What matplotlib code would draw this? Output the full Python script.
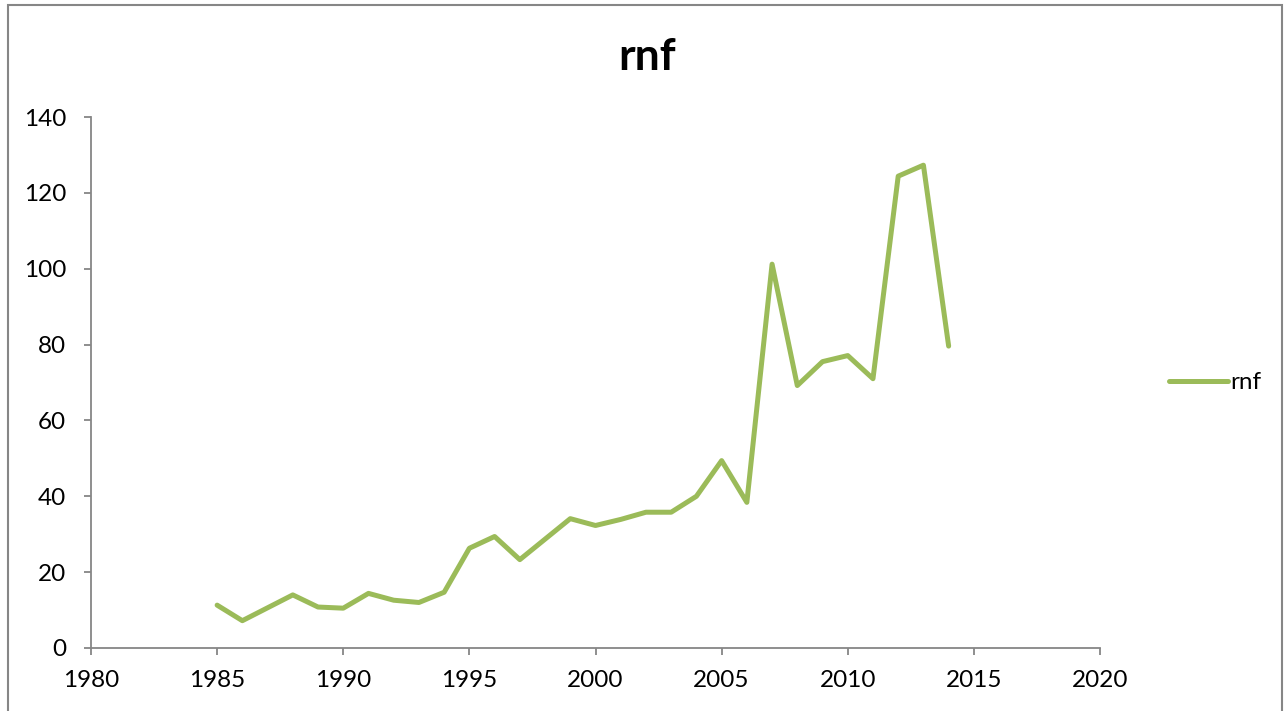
import matplotlib
matplotlib.use('Agg')
import matplotlib.pyplot as plt
from matplotlib.patches import Rectangle

plt.rcParams['font.family'] = ['Lato', 'DejaVu Sans']

years = list(range(1985, 2015))
rnf = [11.3, 7.2, 10.6, 14.0, 10.8, 10.5, 14.4, 12.6, 12.0, 14.7,
       26.3, 29.4, 23.3, 28.7, 34.1, 32.3, 33.9, 35.8, 35.8, 40.0,
       49.4, 38.4, 101.2, 69.2, 75.5, 77.1, 71.0, 124.4, 127.3, 79.6]

line_color = '#9BBB59'
axis_color = '#868686'

fig = plt.figure(figsize=(12.87, 7.11), dpi=100)
ax = fig.add_axes([91 / 1287, 1 - 648 / 711, (1100 - 91) / 1287, (648 - 117) / 711])

ax.plot(years, rnf, color=line_color, linewidth=3.6, label='rnf',
        solid_joinstyle='round', solid_capstyle='round')

ax.set_xlim(1980, 2020)
ax.set_ylim(0, 140)
ax.set_xticks(range(1980, 2021, 5))
ax.set_yticks(range(0, 141, 20))

for side in ['top', 'right']:
    ax.spines[side].set_visible(False)
for side in ['left', 'bottom']:
    ax.spines[side].set_color(axis_color)
    ax.spines[side].set_linewidth(1.3)
ax.tick_params(direction='out', length=5, width=1.3, color=axis_color,
               labelsize=17.5, labelcolor='black')
ax.tick_params(axis='x', pad=11)
ax.tick_params(axis='y', pad=13)

# title is centred on the whole chart, not on the plot area
fig.text(647 / 1287, 1 - 57 / 711, 'rnf', fontsize=32, fontweight='bold',
         ha='center', va='center')

leg = ax.legend(loc='center left', bbox_to_anchor=(1.047, 0.5), frameon=False,
                fontsize=17.5, handlelength=2.4, handletextpad=0.1)

# outer chart border
fig.patches.append(Rectangle((8 / 1287, -0.05), (1282 - 8) / 1287, 1.05 - 5 / 711,
                             transform=fig.transFigure, fill=False,
                             edgecolor=axis_color, linewidth=1.5))

fig.savefig('out.png', dpi=100)
